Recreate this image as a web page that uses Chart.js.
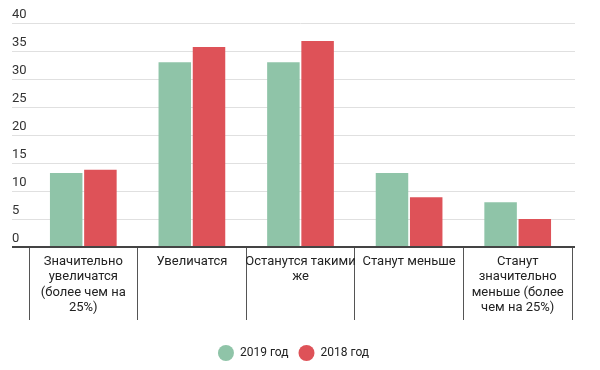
<!DOCTYPE html>
<html>
<head>
<meta charset="utf-8">
<script src="https://cdn.jsdelivr.net/npm/chart.js@4"></script>
<style>
    html, body { margin: 0; padding: 0; background: #fff; }
    #wrap { width: 600px; height: 370px; }
</style>
</head>
<body>
<div id="wrap"><canvas id="chart"></canvas></div>
<script>
// Chart data
const categories = [
    ['Значительно', 'увеличатся', '(более чем на', '25%)'],
    ['Увеличатся'],
    ['Останутся такими', 'же'],
    ['Станут меньше'],
    ['Станут', 'значительно', 'меньше (более', 'чем на 25%)']
];
const values2019 = [13.2, 33, 33, 13.2, 8];
const values2018 = [13.8, 35.7, 36.8, 8.9, 5];
const yTicks = [0, 5, 10, 15, 20, 25, 30, 35, 40];

const FONT = 'Roboto, sans-serif';

// zero line is dark, the others light
function gridColor(c) {
    return c.tick && c.tick.value === 0 ? '#444' : '#e0e0e0';
}
function gridWidth(c) {
    return c.tick && c.tick.value === 0 ? 2 : 1;
}
function setTicks(scale) {
    scale.ticks = yTicks.map(v => ({ value: v }));
}

new Chart(document.getElementById('chart'), {
    type: 'bar',
    data: {
        labels: categories,
        datasets: [
            {
                label: '2019 год',
                data: values2019,
                backgroundColor: '#8fc4a8',
                barPercentage: 0.95,
                categoryPercentage: 0.63
            },
            {
                label: '2018 год',
                data: values2018,
                backgroundColor: '#de5258',
                barPercentage: 0.95,
                categoryPercentage: 0.63
            }
        ]
    },
    options: {
        responsive: true,
        maintainAspectRatio: false,
        animation: false,
        layout: {
            padding: { top: 23, left: 12, right: 25, bottom: 1 }
        },
        plugins: {
            legend: {
                position: 'bottom',
                labels: {
                    usePointStyle: true,
                    pointStyle: 'circle',
                    pointStyleWidth: 16,
                    boxWidth: 16,
                    boxHeight: 11.3,
                    padding: 10,
                    color: '#222',
                    font: { family: FONT, size: 12 }
                }
            },
            tooltip: { enabled: false }
        },
        scales: {
            x: {
                border: { display: false },
                grid: {
                    offset: true,
                    drawOnChartArea: false,
                    tickLength: 73,
                    color: '#555',
                    lineWidth: 1
                },
                ticks: {
                    padding: -66,
                    autoSkip: false,
                    maxRotation: 0,
                    color: '#222',
                    font: { family: FONT, size: 13, lineHeight: 1.18 }
                },
                afterFit: function(scale) { scale.height = 90; }
            },
            y: {
                min: 0,
                max: 40,
                afterBuildTicks: setTicks,
                border: { display: false },
                grid: {
                    color: gridColor,
                    lineWidth: gridWidth,
                    tickLength: 17
                },
                ticks: {
                    crossAlign: 'far',
                    padding: 0,
                    labelOffset: -8,
                    color: '#333',
                    font: { family: FONT, size: 13 }
                },
                afterFit: function(scale) { scale.width = 17; }
            },
            y2: {
                position: 'right',
                min: 0,
                max: 40,
                afterBuildTicks: setTicks,
                border: { display: false },
                grid: {
                    drawOnChartArea: false,
                    color: gridColor,
                    lineWidth: gridWidth,
                    tickLength: 3
                },
                ticks: { display: false },
                afterFit: function(scale) { scale.width = 3; }
            }
        }
    }
});
</script>
</body>
</html>
